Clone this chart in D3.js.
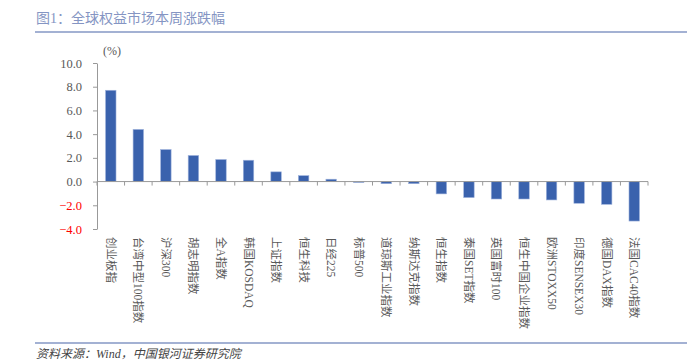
<!DOCTYPE html>
<html>
<head>
<meta charset="utf-8">
<script src="https://cdn.jsdelivr.net/npm/d3@7"></script>
<style>
  body { margin: 0; background: #fff; }
  svg { display: block; }
</style>
</head>
<body>
<div id="chart"></div>
<script>
// categories and weekly change (%)
const categories = ["创业板指", "台湾中型100指数", "沪深300", "胡志明指数", "全A指数", "韩国KOSDAQ",
  "上证指数", "恒生科技", "日经225", "标普500", "道琼斯工业指数", "纳斯达克指数", "恒生指数",
  "泰国SET指数", "英国富时100", "恒生中国企业指数", "欧洲STOXX50", "印度SENSEX30", "德国DAX指数", "法国CAC40指数"];
const changes = [7.7, 4.4, 2.7, 2.2, 1.86, 1.8, 0.82, 0.5, 0.2, -0.08, -0.18, -0.18, -1.04,
  -1.35, -1.47, -1.47, -1.55, -1.83, -1.92, -3.33];
const yTicks = [10, 8, 6, 4, 2, 0, -2, -4];

const width = 687, height = 362;
const serif = "'Liberation Serif', 'Noto Sans CJK SC', serif";
const cjk = "'Liberation Serif', 'Noto Sans CJK SC', sans-serif";

const svg = d3.select("#chart").append("svg")
  .attr("width", width).attr("height", height);

// title + rules
svg.append("text").attr("x", 36).attr("y", 23)
  .attr("font-family", cjk).attr("font-size", 14).attr("fill", "#8595c3")
  .text("图1：全球权益市场本周涨跌幅");
svg.append("line").attr("x1", 35).attr("x2", 687).attr("y1", 32).attr("y2", 32)
  .attr("stroke", "#a3b1d3").attr("stroke-width", 2);
svg.append("line").attr("x1", 35).attr("x2", 687).attr("y1", 343).attr("y2", 343)
  .attr("stroke", "#a3b1d3").attr("stroke-width", 2);
svg.append("text").attr("x", 36).attr("y", 358)
  .attr("font-family", cjk).attr("font-size", 12).attr("fill", "#444")
  .attr("font-style", "italic")
  .text("资料来源：Wind，中国银河证券研究院");

const x = d3.scaleBand().domain(categories).range([97, 648]).paddingInner(0.62).paddingOuter(0.31);
const y = d3.scaleLinear().domain([-4, 10]).range([229, 63]);

// y axis
const yAxis = svg.append("g").attr("transform", "translate(97,0)")
  .call(d3.axisLeft(y).tickValues(yTicks).tickFormat(d3.format(".1f")).tickSize(4).tickSizeOuter(0));
yAxis.select(".domain").attr("stroke", "#999");
yAxis.selectAll(".tick line").attr("stroke", "#999");
yAxis.selectAll(".tick text")
  .attr("font-family", serif).attr("font-size", 12.5)
  .attr("x", -15)
  .attr("fill", d => d < 0 ? "#ff0000" : "#595959");

svg.append("text").attr("x", 103).attr("y", 55)
  .attr("font-family", serif).attr("font-size", 12).attr("fill", "#595959").text("(%)");

// bars
svg.append("g").selectAll("rect").data(categories).join("rect")
  .attr("x", d => x(d))
  .attr("width", x.bandwidth())
  .attr("y", (d, i) => y(Math.max(0, changes[i])))
  .attr("height", (d, i) => Math.abs(y(changes[i]) - y(0)))
  .attr("fill", "#3a62ad")
  .attr("stroke", "#9fb3dc").attr("stroke-width", 0.6);

// x axis at zero with ticks between categories
const step = x.step();
const xBoundaries = d3.range(categories.length + 1).map(i => 97 + i * (551 / categories.length));
svg.append("line").attr("x1", 97).attr("x2", 648).attr("y1", y(0)).attr("y2", y(0))
  .attr("stroke", "#999");
svg.append("g").selectAll("line").data(xBoundaries).join("line")
  .attr("x1", d => d).attr("x2", d => d)
  .attr("y1", y(0)).attr("y2", y(0) + 4)
  .attr("stroke", "#999");

// category labels, vertical
svg.append("g").selectAll("text").data(categories).join("text")
  .attr("transform", d => `translate(${x(d) + x.bandwidth() / 2 - 4},237) rotate(90)`)
  .attr("font-family", cjk).attr("font-size", 11.5).attr("fill", "#595959")
  .text(d => d);
</script>
</body>
</html>
